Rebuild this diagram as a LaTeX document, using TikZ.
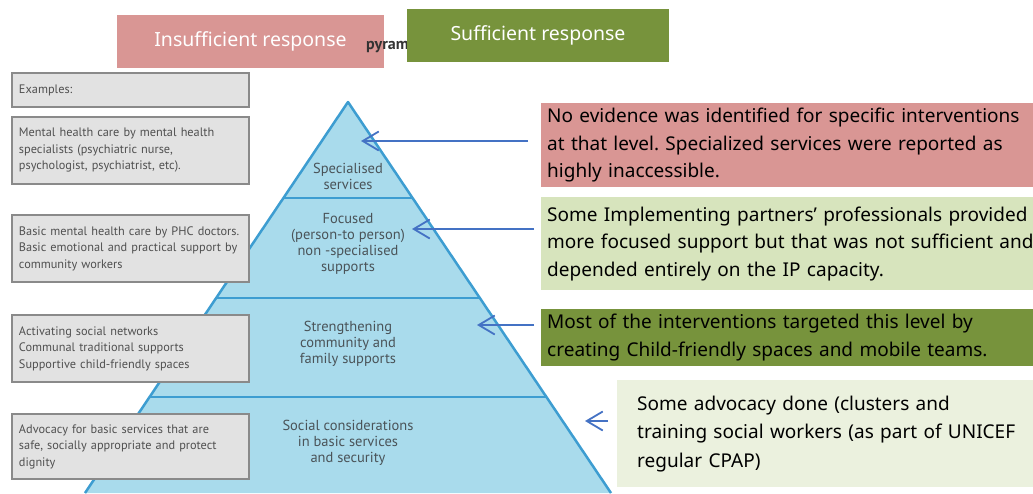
\documentclass[tikz,border=0pt]{standalone}
\usepackage{fontspec}
\setmainfont{Noto Sans}
\newfontfamily\dinfont{PT Sans}
\usetikzlibrary{arrows.meta}
\frenchspacing
\definecolor{insuf}{HTML}{D99694}
\definecolor{suf}{HTML}{77933C}
\definecolor{partial}{HTML}{D7E4BD}
\definecolor{some}{HTML}{EBF1DE}
\definecolor{pyrfill}{HTML}{A9DBEC}
\definecolor{pyredge}{HTML}{3D9DD1}
\definecolor{pyrtext}{HTML}{4A5358}
\definecolor{exfill}{HTML}{E2E2E2}
\definecolor{exedge}{HTML}{8A8A8A}
\definecolor{extext}{HTML}{505050}
\definecolor{arrowblue}{HTML}{4472C4}
\tikzset{
  legendbox/.style={inner sep=0pt, minimum height=53pt, text=white, font=\fontsize{19.5}{22}\selectfont},
  findbox/.style={anchor=north west, inner xsep=6pt, inner ysep=0pt, align=left, text width=492pt, font=\fontsize{19}{27.5}\selectfont},
  exbox/.style={draw=exedge, line width=1.5pt, fill=exfill, text=extext, align=left, inner xsep=7pt, text width=223pt, font=\dinfont\fontsize{12.3}{16.5}\selectfont},
  level/.style={text=pyrtext, align=center, font=\dinfont\fontsize{14.5}{16}\selectfont},
  pointer/.style={draw=arrowblue, line width=1.8pt, -{Straight Barb[length=16pt, width=19pt]}}
}
\begin{document}
\begin{tikzpicture}[x=1pt,y=-1pt]
    \useasboundingbox (0,0) rectangle (1033,493);
    \fill[pyrfill] (348,102) -- (611,493) -- (85,493) -- cycle;
    \draw[pyredge, line width=2.5pt, line join=round] (85,493) -- (348,102) -- (611,493);
    \draw[pyredge, line width=2.5pt] (283.5,198) -- (412.5,198);
    \draw[pyredge, line width=2.5pt] (216,298) -- (480,298);
    \draw[pyredge, line width=2.5pt] (150,397) -- (546,397);
    \node[level] (spec) at (348,176) {Specialised\\services};
    \node[level] (focus) at (348,244) {Focused\\(person-to person)\\non -specialised\\supports};
    \node[level] (comm) at (348,344) {Strengthening\\community and\\family supports};
    \node[level] (social) at (348,443) {Social considerations\\in basic services\\and security};

    \node[exbox, minimum height=34pt] (ex0) at (130.5,90) {Examples:};
    \node[exbox, minimum height=67pt] (ex1) at (130.5,150.5) {Mental health care by mental health\\specialists (psychiatric nurse,\\psychologist, psychiatrist, etc).};
    \node[exbox, minimum height=67pt] (ex2) at (130.5,248.5) {Basic mental health care by PHC doctors.\\Basic emotional and practical support by\\community workers};
    \node[exbox, minimum height=67pt] (ex3) at (130.5,348.5) {Activating social networks\\Communal traditional supports\\Supportive child-friendly spaces};
    \node[exbox, minimum height=65pt] (ex4) at (130.5,446.5) {Advocacy for basic services that are\\safe, socially appropriate and protect\\dignity};

    \node[legendbox, fill=insuf, minimum width=267pt] (insuf) at (250.5,41.5) {Insufficient response};
    \node[anchor=west, inner sep=0pt, text=black!80, font=\dinfont\bfseries\fontsize{16}{18}\selectfont] (pyram) at (366,47) {pyram};
    \node[legendbox, fill=suf, minimum width=262pt] (suf) at (538,35) {Sufficient response};

    \node[findbox, fill=insuf, minimum height=84pt] (find1) at (541,103) {No evidence was identified for specific interventions\\at that level. Specialized services were reported as\\highly inaccessible.};
    \node[findbox, fill=partial, minimum height=93pt] (find2) at (541,197) {Some Implementing partners’ professionals provided\\more focused support but that was not sufficient and\\depended entirely on the IP capacity.};
    \node[findbox, fill=suf, minimum height=57pt] (find3) at (541,309) {Most of the interventions targeted this level by\\creating Child-friendly spaces and mobile teams.};
    \node[findbox, fill=some, minimum height=107pt, inner xsep=20pt, text width=400pt, font=\fontsize{19}{28.5}\selectfont] (find4) at (617,380) {Some advocacy done (clusters and\\training social workers (as part of UNICEF\\regular CPAP)};

    \coordinate (tail1) at (528,141);
    \coordinate (tip1) at (361,141);
    \coordinate (tail2) at (534,229);
    \coordinate (tip2) at (412,229);
    \coordinate (tail3) at (534,325);
    \coordinate (tip3) at (477,325);
    \coordinate (tail4) at (608,421);
    \coordinate (tip4) at (585,421);
    \draw[pointer] (tail1) -- (tip1);
    \draw[pointer] (tail2) -- (tip2);
    \draw[pointer] (tail3) -- (tip3);
    \draw[pointer] (tail4) -- (tip4);
\end{tikzpicture}
\end{document}
